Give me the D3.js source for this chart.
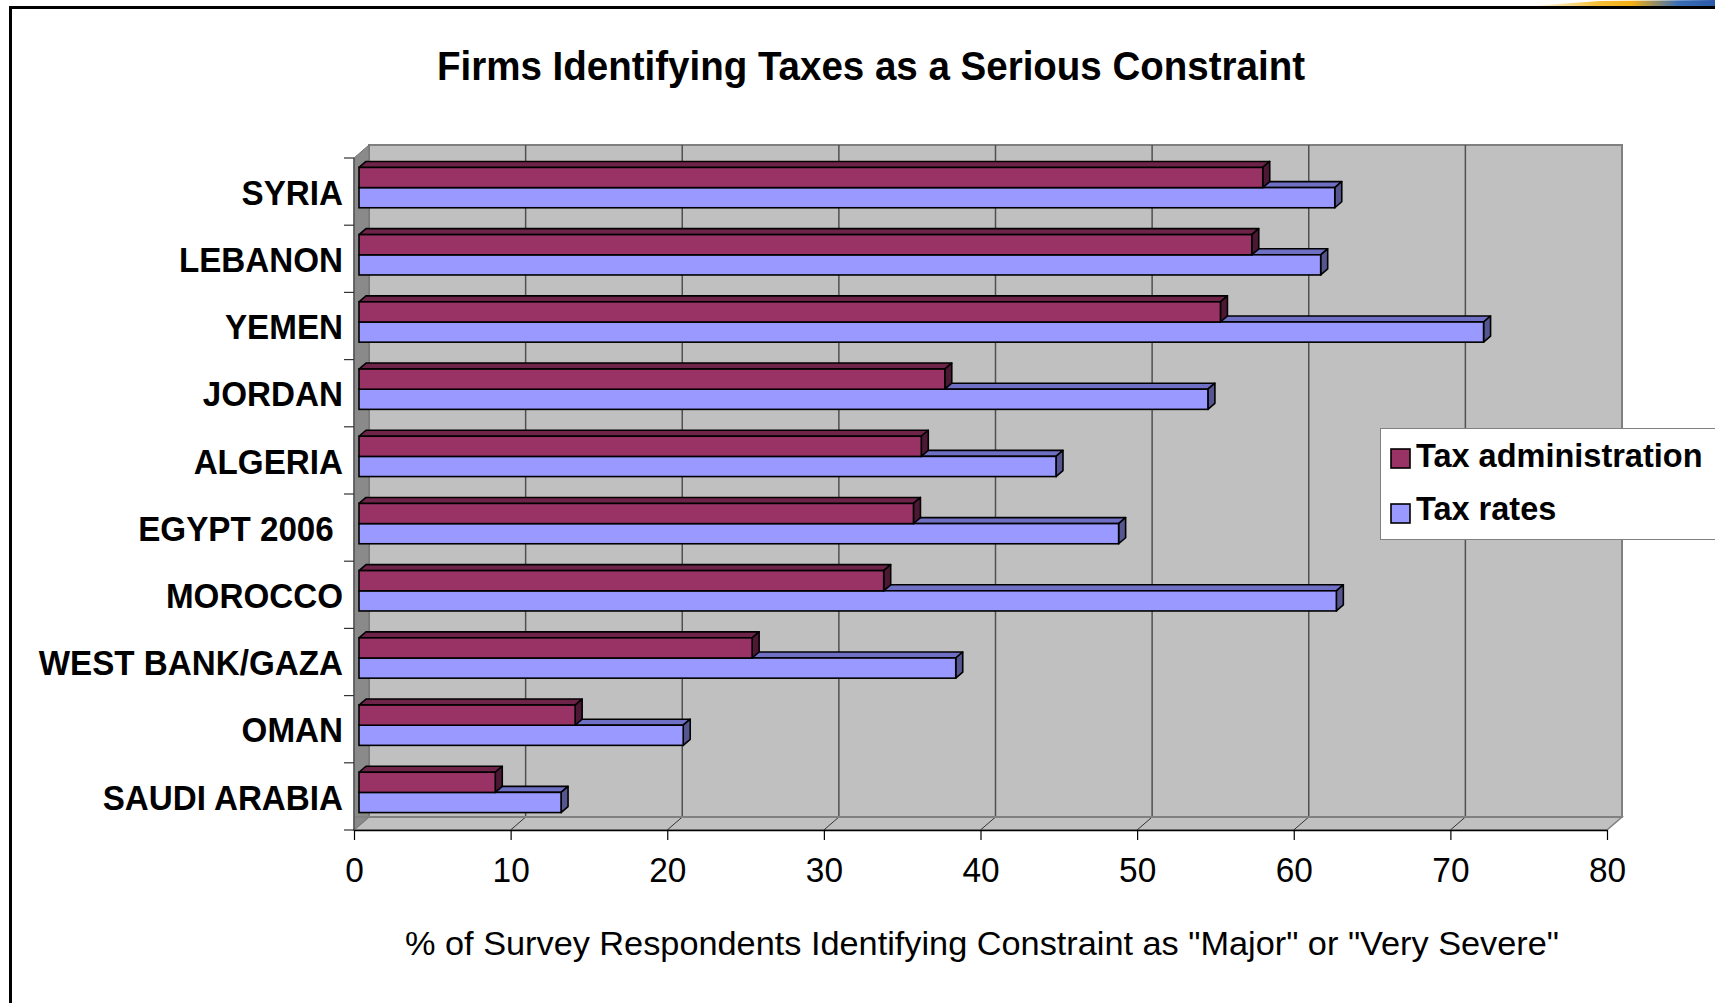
<!DOCTYPE html>
<html><head><meta charset="utf-8">
<script src="https://cdn.jsdelivr.net/npm/d3@7"></script>
<style>
body{margin:0;background:#fff;overflow:hidden;}
svg{display:block;}
text{font-family:"Liberation Sans",Arial,Helvetica,sans-serif;fill:#000;}
</style>
</head><body><svg id="c" width="1715" height="1003"></svg>
<script>
// ---- data ----
const categories = ["SYRIA","LEBANON","YEMEN","JORDAN","ALGERIA","EGYPT 2006 ","MOROCCO","WEST BANK/GAZA","OMAN","SAUDI ARABIA"];
const seriesNames = ["Tax administration","Tax rates"];
const taxAdministration = [57.7,57.0,55.0,37.4,35.9,35.4,33.5,25.1,13.8,8.7];
const taxRates = [62.3,61.4,71.8,54.2,44.5,48.5,62.4,38.1,20.7,12.9];
const xTicks = [0,10,20,30,40,50,60,70,80];
const chartTitle = "Firms Identifying Taxes as a Serious Constraint";
const xTitle = '% of Survey Respondents Identifying Constraint as "Major" or "Very Severe"';

// ---- layout ----
const svg = d3.select("#c");
const x = d3.scaleLinear().domain([0,80]).range([354,1607]);
const y = d3.scaleBand().domain(categories).range([158,830]).paddingInner(0.4).paddingOuter(0.2);
const ys = d3.scaleBand().domain(seriesNames).range([0,y.bandwidth()]);
const wall = {dx:15, dy:-13};
const barFront = {dx:5, dy:-4};
const barDepth = {dx:7, dy:-6};
const colors = {
  "Tax administration": {front:"#993366", top:"#6e2349", side:"#4d1833"},
  "Tax rates": {front:"#9999ff", top:"#6f6fc4", side:"#55558f"}
};
const top0 = y.range()[0], bot0 = y.range()[1];

// swoosh at top right
const defs = svg.append("defs");
const lg = defs.append("linearGradient").attr("id","sw").attr("x1","0").attr("x2","1");
[["0%","#ffffff"],["35%","#f6c03a"],["55%","#f2ae12"],["80%","#3a6db5"],["100%","#2a5aa8"]].forEach(s=>lg.append("stop").attr("offset",s[0]).attr("stop-color",s[1]));
svg.append("path").attr("d","M1530,6 L1600,1 L1715,0 L1715,6 Z").attr("fill","url(#sw)");

// frame
svg.append("path").attr("d","M1715,7.5 H10.5 V1003").attr("fill","none").attr("stroke","#000").attr("stroke-width",3);

// back wall
svg.append("rect").attr("x",x(0)+wall.dx).attr("y",top0+wall.dy)
  .attr("width",x(80)-x(0)).attr("height",bot0-top0)
  .attr("fill","#c0c0c0").attr("stroke","#808080").attr("stroke-width",2);
// left wall
svg.append("path").attr("d",`M${x(0)},${top0} L${x(0)+wall.dx},${top0+wall.dy} L${x(0)+wall.dx},${bot0+wall.dy} L${x(0)},${bot0} Z`)
  .attr("fill","#8a8a8a").attr("stroke","#707070").attr("stroke-width",1);
// floor
svg.append("path").attr("d",`M${x(0)},${bot0} L${x(0)+wall.dx},${bot0+wall.dy} L${x(80)+wall.dx},${bot0+wall.dy} L${x(80)},${bot0} Z`)
  .attr("fill","#c0c0c0").attr("stroke","#808080").attr("stroke-width",1.5);
// gridlines on back wall
const inner = xTicks.filter(v=>v>0 && v<80);
svg.selectAll(".grid").data(inner).join("line").attr("class","grid")
  .attr("x1",d=>x(d)+wall.dx).attr("x2",d=>x(d)+wall.dx)
  .attr("y1",top0+wall.dy).attr("y2",bot0+wall.dy)
  .attr("stroke","#505050").attr("stroke-width",1.5);
// floor diagonals
svg.selectAll(".fl").data(inner).join("line").attr("class","fl")
  .attr("x1",d=>x(d)).attr("y1",bot0).attr("x2",d=>x(d)+wall.dx).attr("y2",bot0+wall.dy)
  .attr("stroke","#333").attr("stroke-width",1);
svg.append("line").attr("x1",x(0)).attr("y1",bot0+wall.dy).attr("x2",x(80)+wall.dx).attr("y2",bot0+wall.dy)
  .attr("stroke","#808080").attr("stroke-width",2);

// left axis (category) line and boundary ticks
svg.append("line").attr("x1",x(0)).attr("x2",x(0)).attr("y1",top0).attr("y2",bot0).attr("stroke","#555").attr("stroke-width",1.5);
const bounds = categories.map(c=>y(c)-y.step()*y.paddingOuter()).concat([bot0]);
svg.selectAll(".ytick").data(bounds).join("line").attr("class","ytick")
  .attr("x1",x(0)-10).attr("x2",x(0)).attr("y1",d=>d).attr("y2",d=>d)
  .attr("stroke","#333").attr("stroke-width",1.2);
svg.selectAll(".ylab").data(categories).join("text").attr("class","ylab")
  .attr("x",343).attr("y",d=>y(d)+y.bandwidth()/2).attr("dy","0.37em")
  .attr("text-anchor","end").style("white-space","pre")
  .attr("font-size",35.5).attr("font-weight","bold").text(d=>d)
  .each(function(){
    const w = this.getComputedTextLength();
    d3.select(this).attr("textLength", w*0.935).attr("lengthAdjust","spacingAndGlyphs");
  });

// bottom axis
const ax = svg.append("g").attr("transform",`translate(0,${bot0})`)
  .call(d3.axisBottom(x).tickValues(xTicks).tickSize(10).tickSizeOuter(0).tickPadding(17));
ax.select(".domain").attr("stroke","#000").attr("stroke-width",1.5);
ax.selectAll(".tick line").attr("stroke","#000").attr("stroke-width",1.2);
ax.selectAll(".tick text").attr("font-size",35).attr("font-family",'"Liberation Sans",Arial,sans-serif').attr("fill","#000")
  .attr("textLength",d=>String(d).length*18.6).attr("lengthAdjust","spacingAndGlyphs");

// bars
function bar(g, v, yTop, h, col){
  const x0 = x(0)+barFront.dx, x1 = x(v)+barFront.dx;
  const dx = barDepth.dx, dy = barDepth.dy;
  const sw = 1.6;
  g.append("path").attr("d",`M${x0},${yTop} L${x0+dx},${yTop+dy} L${x1+dx},${yTop+dy} L${x1},${yTop} Z`)
    .attr("fill",col.top).attr("stroke","#000").attr("stroke-width",sw).attr("stroke-linejoin","round");
  g.append("path").attr("d",`M${x1},${yTop} L${x1+dx},${yTop+dy} L${x1+dx},${yTop+h+dy} L${x1},${yTop+h} Z`)
    .attr("fill",col.side).attr("stroke","#000").attr("stroke-width",sw).attr("stroke-linejoin","round");
  g.append("rect").attr("x",x0).attr("y",yTop).attr("width",x1-x0).attr("height",h)
    .attr("fill",col.front).attr("stroke","#000").attr("stroke-width",sw);
}
const bars = svg.append("g");
categories.forEach((c,i)=>{
  const g = bars.append("g");
  const h = ys.bandwidth();
  const base = y(c)+barFront.dy;
  bar(g, taxRates[i], base+ys("Tax rates"), h, colors["Tax rates"]);
  bar(g, taxAdministration[i], base+ys("Tax administration"), h, colors["Tax administration"]);
});

// legend
const lgG = svg.append("g");
lgG.append("rect").attr("x",1380.5).attr("y",428.5).attr("width",400).attr("height",111)
  .attr("fill","#fff").attr("stroke","#808080").attr("stroke-width",1);
seriesNames.forEach((s,i)=>{
  lgG.append("rect").attr("x",1391).attr("y",449+i*55).attr("width",19).attr("height",19)
    .attr("fill",colors[s].front).attr("stroke","#000").attr("stroke-width",1.6);
  lgG.append("text").attr("x",1416).attr("y",467+i*53).attr("font-size",33.5).attr("font-weight","bold")
    .text(s).each(function(){
      const w = this.getComputedTextLength();
      d3.select(this).attr("textLength", w*0.97).attr("lengthAdjust","spacingAndGlyphs");
    });
});

// titles
svg.append("text").attr("x",437).attr("y",80).attr("font-size",41).attr("font-weight","bold")
  .attr("textLength",868).attr("lengthAdjust","spacingAndGlyphs").text(chartTitle);
svg.append("text").attr("x",405).attr("y",955).attr("font-size",34)
  .attr("textLength",1154).attr("lengthAdjust","spacingAndGlyphs").text(xTitle);
</script>
</body></html>
